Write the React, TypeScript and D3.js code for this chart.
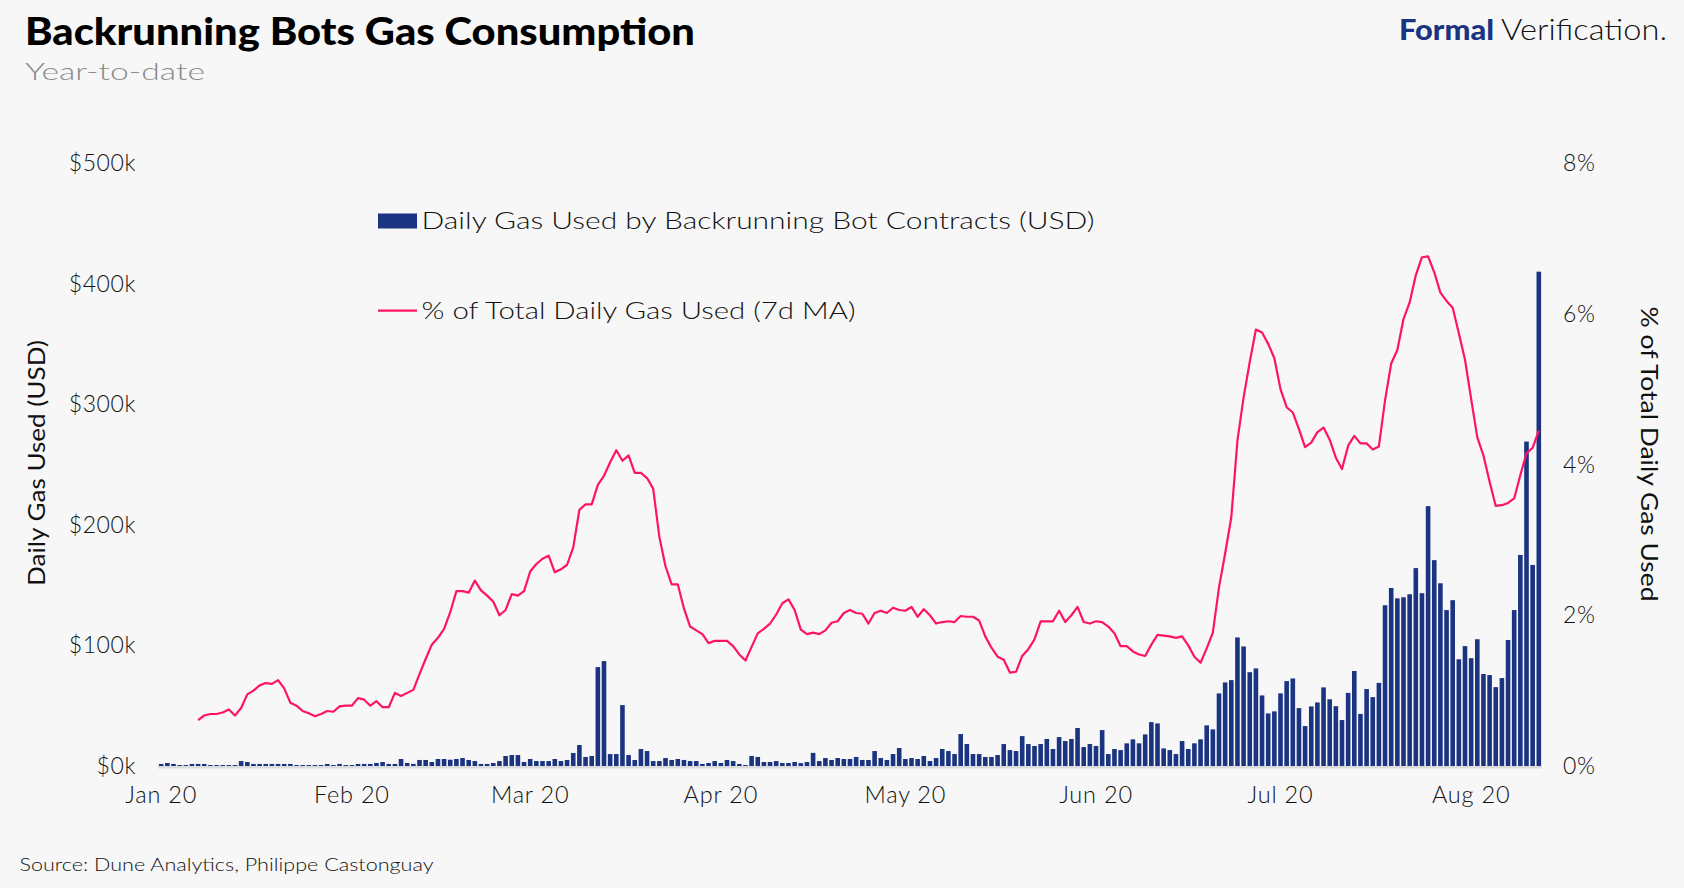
import React from "react";
import * as d3 from "d3";

// ---- data ----
const startDay = "2020-01-01";
const endDay = "2020-08-12";

// daily gas used by backrunning bot contracts, thousands of USD (one per day, Jan 1 .. Aug 12)
const gasJan = [1.7, 2.5, 1.7, 0.8, 0.8, 1.7, 1.7, 1.7, 0.8, 0.8, 0.8, 0.8, 0.8, 4.1, 3.3, 1.7, 1.7, 1.7, 1.7, 1.7, 1.7, 1.7, 0.8, 0.8, 0.8, 0.8, 0.8, 1.7, 0.8, 1.7, 0.8];
const gasFeb = [0.8, 1.7, 1.7, 1.7, 2.5, 3.3, 1.7, 1.7, 5.8, 2.5, 1.7, 5.0, 5.0, 3.3, 5.8, 5.8, 5.2, 5.8, 6.6, 5.0, 4.1, 1.7, 1.7, 2.5, 4.1, 8.3, 9.1, 9.1, 3.3];
const gasMar = [5.8, 4.1, 4.1, 4.1, 5.8, 4.1, 5.0, 10.8, 17.4, 7.5, 8.3, 82, 87, 9.9, 9.9, 50.5, 9.1, 5.0, 14.1, 12.4, 4.1, 4.1, 6.6, 5.0, 5.8, 5.0, 4.1, 4.1, 1.7, 2.5, 4.1];
const gasApr = [2.5, 5.0, 4.1, 1.7, 0.8, 8.3, 7.5, 3.3, 3.3, 4.1, 2.5, 2.5, 3.3, 2.4, 3.3, 10.9, 4.1, 6.6, 5.0, 6.6, 5.8, 5.8, 7.5, 5.0, 5.0, 12.4, 6.6, 5.0, 9.9, 14.9];
const gasMay = [5.8, 6.6, 5.8, 8.3, 4.1, 6.6, 14.1, 12.4, 9.9, 26.5, 18.2, 9.9, 9.9, 7.5, 7.5, 9.1, 18.2, 13.2, 12.4, 24.8, 18.2, 16.6, 18.2, 22.4, 14.1, 24.0, 20.7, 22.4, 31.5, 15.7, 18.2];
const gasJun = [16.6, 29.8, 9.9, 14.1, 13.2, 18.8, 22.1, 18.8, 26.2, 36.4, 35.3, 14.6, 13.2, 9.9, 20.7, 14.1, 18.8, 22.1, 33.7, 30.4, 60.2, 69.3, 71.2, 106.6, 99.1, 77.8, 80.9, 58.5, 43.6, 45.3];
const gasJul = [60.2, 70.4, 72.6, 48.0, 33.1, 49.4, 52.7, 65.2, 55.3, 49.6, 38.1, 60.6, 78.8, 43.2, 63.8, 57.1, 68.9, 133.3, 147.6, 139.0, 139.9, 142.4, 164.1, 143.3, 215.5, 170.7, 151.5, 129.3, 137.5, 88.5, 99.4];
const gasAug = [89.4, 105.1, 76.3, 75.4, 65.4, 72.9, 104.5, 129.3, 175.0, 269.0, 166.7, 409.9];

// % of total daily gas used, 7-day moving average (null where not yet available)
const pctJan = [null, null, null, null, null, null, 0.61, 0.67, 0.69, 0.69, 0.71, 0.75, 0.67, 0.77, 0.95, 1.0, 1.07, 1.1, 1.09, 1.14, 1.03, 0.84, 0.8, 0.73, 0.7, 0.66, 0.69, 0.73, 0.72, 0.79, 0.8];
const pctFeb = [0.8, 0.9, 0.88, 0.8, 0.86, 0.78, 0.78, 0.97, 0.93, 0.97, 1.01, 1.22, 1.42, 1.61, 1.7, 1.82, 2.04, 2.32, 2.32, 2.3, 2.46, 2.33, 2.26, 2.18, 2.0, 2.07, 2.28, 2.26, 2.32];
const pctMar = [2.58, 2.68, 2.75, 2.79, 2.57, 2.61, 2.67, 2.9, 3.4, 3.47, 3.47, 3.73, 3.85, 4.03, 4.19, 4.05, 4.12, 3.89, 3.89, 3.82, 3.68, 3.04, 2.65, 2.41, 2.41, 2.09, 1.85, 1.8, 1.75, 1.63, 1.66];
const pctApr = [1.66, 1.66, 1.59, 1.48, 1.4, 1.58, 1.76, 1.82, 1.89, 2.01, 2.16, 2.21, 2.07, 1.81, 1.75, 1.77, 1.75, 1.8, 1.9, 1.92, 2.03, 2.07, 2.03, 2.02, 1.89, 2.03, 2.06, 2.03, 2.1, 2.07];
const pctMay = [2.06, 2.11, 1.98, 2.08, 2.0, 1.89, 1.91, 1.92, 1.91, 1.99, 1.98, 1.98, 1.93, 1.72, 1.57, 1.45, 1.41, 1.24, 1.25, 1.46, 1.55, 1.68, 1.92, 1.92, 1.92, 2.06, 1.91, 2.0, 2.11, 1.91, 1.89];
const pctJun = [1.92, 1.91, 1.85, 1.76, 1.59, 1.59, 1.52, 1.48, 1.46, 1.61, 1.74, 1.73, 1.72, 1.7, 1.72, 1.6, 1.45, 1.37, 1.56, 1.77, 2.37, 2.82, 3.3, 4.32, 4.89, 5.36, 5.79, 5.75, 5.6, 5.41];
const pctJul = [5.0, 4.76, 4.69, 4.47, 4.23, 4.29, 4.43, 4.49, 4.33, 4.09, 3.94, 4.25, 4.38, 4.28, 4.28, 4.2, 4.24, 4.85, 5.34, 5.52, 5.93, 6.15, 6.51, 6.75, 6.76, 6.55, 6.28, 6.17, 6.08, 5.74, 5.39];
const pctAug = [4.87, 4.36, 4.12, 3.77, 3.45, 3.46, 3.49, 3.55, 3.86, 4.15, 4.22, 4.45];

const leftTicks = [0, 100, 200, 300, 400, 500];
const rightTicks = [0, 2, 4, 6, 8];

const title = "Backrunning Bots Gas Consumption";
const subtitle = "Year-to-date";
const barLegend = "Daily Gas Used by Backrunning Bot Contracts (USD)";
const lineLegend = "% of Total Daily Gas Used (7d MA)";
const leftTitle = "Daily Gas Used (USD)";
const rightTitle = "% of Total Daily Gas Used";
const source = "Source: Dune Analytics, Philippe Castonguay";

// ---- styles ----
const BG = "#f7f7f7";
const NAVY = "#1a3482";
const PINK = "#ff1464";
const FONT = "Lato, 'Open Sans', sans-serif";

export default function App() {
  const W = 1684;
  const H = 888;

  const gas = [...gasJan, ...gasFeb, ...gasMar, ...gasApr, ...gasMay, ...gasJun, ...gasJul, ...gasAug];
  const pct = [...pctJan, ...pctFeb, ...pctMar, ...pctApr, ...pctMay, ...pctJun, ...pctJul, ...pctAug];

  const t0 = d3.utcParse("%Y-%m-%d")(startDay) as Date;
  const t1 = d3.utcParse("%Y-%m-%d")(endDay) as Date;
  const days = d3.utcDay.range(t0, d3.utcDay.offset(t1, 1));

  const x = d3.scaleUtc().domain([t0, t1]).range([161.2, 1538.8]);
  const yL = d3.scaleLinear().domain([0, 500]).range([766, 163]);
  const yR = d3.scaleLinear().domain([0, 8]).range([766, 163]);
  const bw = 4.6;

  const monthTicks = x.ticks(d3.utcMonth.every(1) as any);
  const fmtMonth = d3.utcFormat("%b %y");

  const line = d3
    .line<number | null>()
    .defined((v) => v != null)
    .x((_, i) => x(days[i]))
    .y((v) => yR(v as number));

  return (
    <svg
      width={W}
      height={H}
      viewBox={`0 0 ${W} ${H}`}
      style={{ position: "absolute", left: 0, top: 0, background: BG }}
      fontFamily={FONT}
    >
      <rect x={0} y={0} width={W} height={H} fill={BG} />

      {/* header */}
      <text x={25} y={44.5} fontSize={38} fontWeight={900} fill="#000" textLength={670} lengthAdjust="spacingAndGlyphs">
        {title}
      </text>
      <text x={25} y={80} fontSize={23} fontWeight={300} fill="#8a8a8a" textLength={180} lengthAdjust="spacingAndGlyphs">
        {subtitle}
      </text>
      <text x={1399} y={40} fontSize={29} fontWeight={900} fill={NAVY} textLength={95} lengthAdjust="spacingAndGlyphs">
        Formal
      </text>
      <text x={1501} y={40} fontSize={29} fontWeight={300} fill="#111" textLength={166} lengthAdjust="spacingAndGlyphs">
        Verification.
      </text>

      {/* baseline */}
      <rect x={158} y={766} width={1384} height={2.5} fill="#dcdcdc" />

      {/* bars */}
      {gas.map((v, i) => (
        <rect key={i} x={x(days[i]) - bw / 2} y={yL(v)} width={bw} height={yL(0) - yL(v)} fill={NAVY} />
      ))}

      {/* line */}
      <path d={line(pct) || ""} fill="none" stroke={PINK} strokeWidth={2.2} strokeLinejoin="round" />

      {/* left axis */}
      {leftTicks.map((v) => (
        <text key={v} x={136} y={yL(v)} dy="0.35em" fontSize={23} fontWeight={300} fill="#111" textAnchor="end" letterSpacing={0.6}>
          {`$${v}k`}
        </text>
      ))}
      <text
        transform={`translate(45,463) rotate(-90)`}
        fontSize={23}
        fontWeight={400}
        fill="#111"
        textAnchor="middle"
        textLength={246}
        lengthAdjust="spacingAndGlyphs"
      >
        {leftTitle}
      </text>

      {/* right axis */}
      {rightTicks.map((v) => (
        <text key={v} x={1563} y={yR(v)} dy="0.35em" fontSize={23} fontWeight={300} fill="#111" textAnchor="start" letterSpacing={0.6}>
          {`${v}%`}
        </text>
      ))}
      <text
        transform={`translate(1641,454) rotate(90)`}
        fontSize={23}
        fontWeight={400}
        fill="#111"
        textAnchor="middle"
        textLength={295}
        lengthAdjust="spacingAndGlyphs"
      >
        {rightTitle}
      </text>

      {/* x axis */}
      {monthTicks.map((d, i) => (
        <text key={i} x={x(d)} y={803} fontSize={23.5} fontWeight={300} fill="#111" textAnchor="middle" letterSpacing={0.8}>
          {fmtMonth(d)}
        </text>
      ))}

      {/* legend */}
      <rect x={378} y={213.5} width={39} height={15} fill={NAVY} />
      <text x={421.5} y={229.3} fontSize={23.5} fontWeight={300} fill="#111" textLength={673} lengthAdjust="spacingAndGlyphs">
        {barLegend}
      </text>
      <line x1={378} x2={417} y1={310.7} y2={310.7} stroke={PINK} strokeWidth={2.2} />
      <text x={421.5} y={319.3} fontSize={23.5} fontWeight={300} fill="#111" textLength={434} lengthAdjust="spacingAndGlyphs">
        {lineLegend}
      </text>

      {/* source */}
      <text x={19.5} y={870.5} fontSize={18.5} fontWeight={300} fill="#111" textLength={414} lengthAdjust="spacingAndGlyphs">
        {source}
      </text>
    </svg>
  );
}
